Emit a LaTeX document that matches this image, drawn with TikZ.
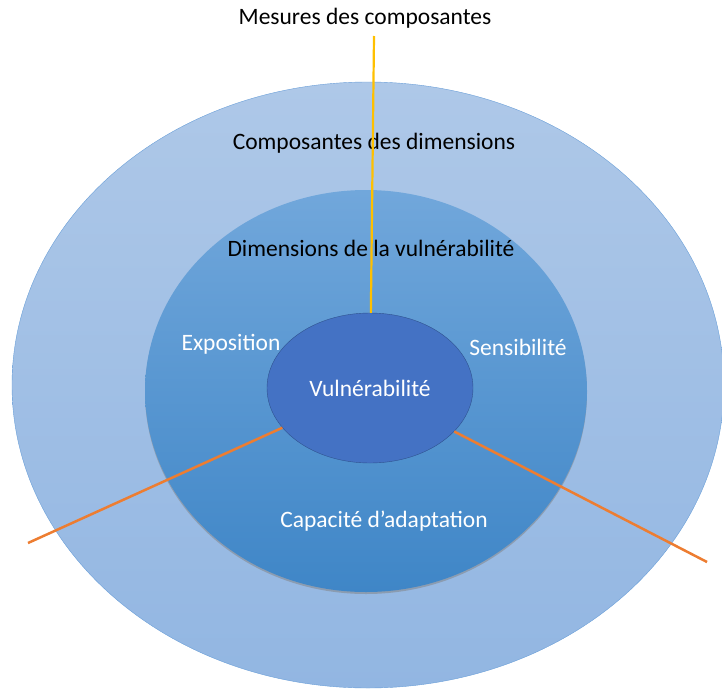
\documentclass[tikz,border=0pt]{standalone}
\usepackage{fontspec}
\setmainfont{Carlito}
\usetikzlibrary{shapes,shadows,positioning}

\definecolor{outertop}{HTML}{AEC8E8}
\definecolor{outerbot}{HTML}{92B6E2}
\definecolor{outeredge}{HTML}{6A9FD8}
\definecolor{dimtop}{HTML}{71A7DB}
\definecolor{dimbot}{HTML}{3F86C7}
\definecolor{vulfill}{HTML}{4472C4}
\definecolor{vuledge}{HTML}{2F528F}
\definecolor{measureyellow}{HTML}{FFC000}
\definecolor{linkorange}{HTML}{ED7D31}

\begin{document}
\begin{tikzpicture}[x=1pt, y=-1pt]
		\tikzstyle{Ring}	= [ellipse, inner sep=0pt]
		\tikzstyle{Outer}	= [Ring, draw=outeredge, top color=outertop, bottom color=outerbot, minimum width=712pt, minimum height=606pt]
		\tikzstyle{Dims}	= [Ring, top color=dimtop, bottom color=dimbot, minimum width=442pt, minimum height=402pt, drop shadow={shadow xshift=0pt, shadow yshift=-2pt, opacity=0.5}]
		\tikzstyle{Core}	= [Ring, draw=vuledge, fill=vulfill, minimum width=206pt, minimum height=150pt]
		\tikzstyle{Label}	= [font=\fontsize{23.5}{28}\selectfont, text=black]
		\tikzstyle{Inside}	= [Label, text=white]
		\tikzstyle{Measure}	= [line width=2.2pt, measureyellow]
		\tikzstyle{Link}	= [line width=2.5pt, linkorange]

		\useasboundingbox (0, 0) rectangle (722, 688);
		\clip (0, 0) rectangle (722, 688);

		\node (comp) at (368, 385) [Outer] {};
		\node (dims) at (366, 391) [Dims] {};
		\node (vul) at (370, 388) [Core] {};

		\node (mes) at (365, 18) [Label] {Mesures des composantes};
		\node (compl) at (374, 143) [Label] {Composantes des dimensions};
		\node (diml) at (371, 248) [Label] {Dimensions de la vulnérabilité};
		\node (expo) at (231, 344) [Inside] {Exposition};
		\node (sens) at (518, 347) [Inside] {Sensibilité};
		\node (capa) at (384, 521) [Inside] {Capacité d’adaptation};
		\node at (vul) [Inside] {Vulnérabilité};

		\coordinate (mtop) at (374, 36);
		\coordinate (lend) at (28, 543);
		\coordinate (rend) at (707, 562);

		\draw [-] (mtop) -- (vul) [Measure];
		\draw [-] (lend) -- (vul) [Link];
		\draw [-] (rend) -- (vul) [Link];
	\end{tikzpicture}
\end{document}
